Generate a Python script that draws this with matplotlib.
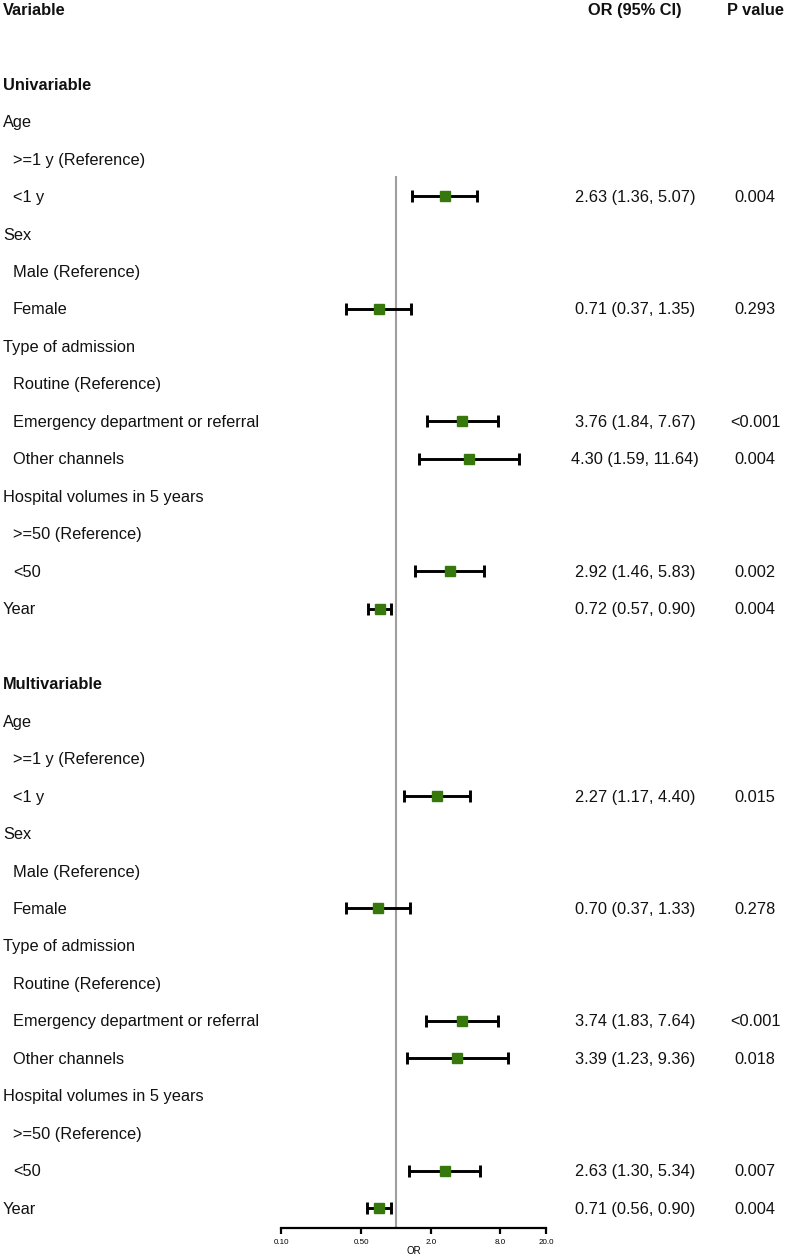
import numpy as np
import matplotlib
matplotlib.use("Agg")
import matplotlib.pyplot as plt

plt.rcParams['font.family'] = ['Liberation Sans', 'DejaVu Sans']

# rows of the table (label, indent level, bold)
row_labels = [
    "Univariable", "Age", ">=1 y (Reference)", "<1 y", "Sex", "Male (Reference)", "Female",
    "Type of admission", "Routine (Reference)", "Emergency department or referral", "Other channels",
    "Hospital volumes in 5 years", ">=50 (Reference)", "<50", "Year", "",
    "Multivariable", "Age", ">=1 y (Reference)", "<1 y", "Sex", "Male (Reference)", "Female",
    "Type of admission", "Routine (Reference)", "Emergency department or referral", "Other channels",
    "Hospital volumes in 5 years", ">=50 (Reference)", "<50", "Year",
]
row_indent = [0, 0, 1, 1, 0, 1, 1, 0, 1, 1, 1, 0, 1, 1, 0, 0,
              0, 0, 1, 1, 0, 1, 1, 0, 1, 1, 1, 0, 1, 1, 0]
row_bold = ["Univariable", "Multivariable"]

# estimates (None for rows without a value)
est = [None, None, None, 2.63, None, None, 0.71, None, None, 3.76, 4.30, None, None, 2.92, 0.72, None,
       None, None, None, 2.27, None, None, 0.70, None, None, 3.74, 3.39, None, None, 2.63, 0.71]
lower = [None, None, None, 1.36, None, None, 0.37, None, None, 1.84, 1.59, None, None, 1.46, 0.57, None,
         None, None, None, 1.17, None, None, 0.37, None, None, 1.83, 1.23, None, None, 1.30, 0.56]
upper = [None, None, None, 5.07, None, None, 1.35, None, None, 7.67, 11.64, None, None, 5.83, 0.90, None,
         None, None, None, 4.40, None, None, 1.33, None, None, 7.64, 9.36, None, None, 5.34, 0.90]
pvals = ["", "", "", "0.004", "", "", "0.293", "", "", "<0.001", "0.004", "", "", "0.002", "0.004", "",
         "", "", "", "0.015", "", "", "0.278", "", "", "<0.001", "0.018", "", "", "0.007", "0.004"]

x_ticks = [0.1, 0.5, 2.0, 8.0, 20.0]
x_ticklabels = ["0.10", "0.50", "2.0", "8.0", "20.0"]

W, H = 787, 1259
fig = plt.figure(figsize=(W / 100, H / 100), dpi=100)

# row i centre sits at pixel y0 + dy * i
y0, dy = 9.0, 37.47
def pix2row(p):
    return (p - y0) / dy

# table axes covering the whole figure, x in pixels, y in rows
tab = fig.add_axes([0, 0, 1, 1])
tab.set_xlim(0, W)
tab.set_ylim(pix2row(H), pix2row(0))
tab.axis('off')

fs = 11.8
tc = '#111111'
off = 1.2 / dy  # small nudge so text sits on the marker line
tab.text(3, off, "Variable", fontsize=fs, weight='bold', va='center', ha='left', color=tc)
tab.text(635, off, "OR (95% CI)", fontsize=fs, weight='bold', va='center', ha='center', color=tc)
tab.text(755, off, "P value", fontsize=fs, weight='bold', va='center', ha='center', color=tc)

for k, lab in enumerate(row_labels):
    i = k + 2 + off
    if lab:
        bold = lab in row_bold
        tab.text(3 + 10 * row_indent[k], i, lab, fontsize=fs,
                 weight='bold' if bold else 'normal', va='center', ha='left', color=tc)
    if est[k] is not None:
        tab.text(635, i, "{:.2f} ({:.2f}, {:.2f})".format(est[k], lower[k], upper[k]),
                 fontsize=fs, va='center', ha='center', color=tc)
        tab.text(755, i, pvals[k], fontsize=fs, va='center', ha='center', color=tc)

# forest panel
top_px, bot_px = 176, 1228
left_px, right_px = 281, 546
ax = fig.add_axes([left_px / W, 1 - bot_px / H, (right_px - left_px) / W, (bot_px - top_px) / H])
ax.set_xscale('log')
ax.set_xlim(0.1, 20)
ax.set_ylim(pix2row(bot_px), pix2row(top_px))
ax.patch.set_alpha(0)
for s in ['top', 'right', 'left']:
    ax.spines[s].set_visible(False)
ax.spines['bottom'].set_linewidth(1.6)
ax.set_yticks([])
ax.axvline(1.0, color='#a0a0a0', lw=1.5, zorder=1)

for k in range(len(row_labels)):
    if est[k] is None:
        continue
    i = k + 2
    ax.errorbar(est[k], i, xerr=[[est[k] - lower[k]], [upper[k] - est[k]]],
                fmt='none', ecolor='black', elinewidth=2.1, capsize=4.6, capthick=2.1, zorder=2)
    ax.plot(est[k], i, marker='s', ms=7.7, color='#36780c', mec='#36780c', zorder=3)

ax.set_xticks(x_ticks)
ax.set_xticklabels(x_ticklabels)
ax.minorticks_off()
ax.tick_params(axis='x', direction='out', length=4, width=1.6, labelsize=5.8, pad=4)
ax.set_xlabel("OR", fontsize=7, labelpad=0)

fig.savefig("out.png", dpi=100, facecolor='white')
